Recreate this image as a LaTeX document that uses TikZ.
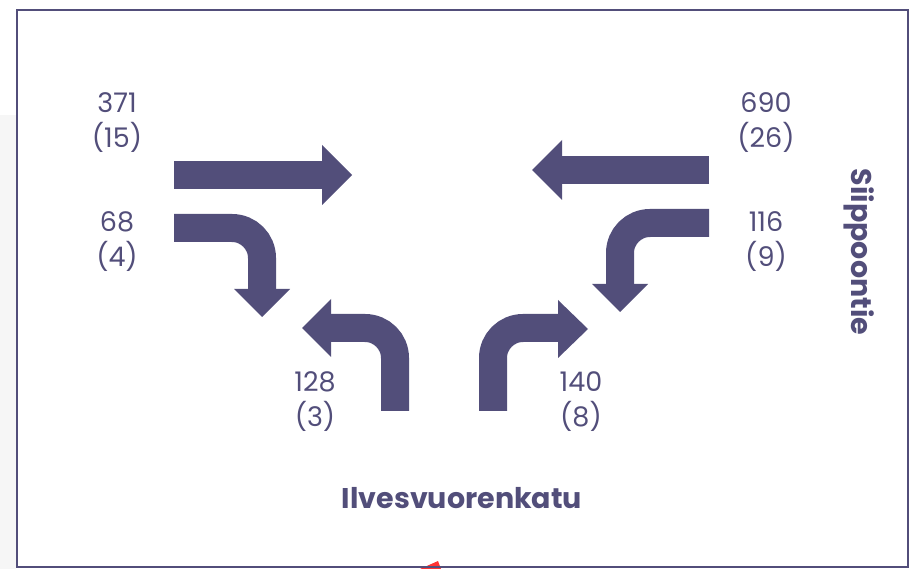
\documentclass[tikz,border=0pt]{standalone}
\usepackage{fontspec}
\setmainfont{Poppins}
\usetikzlibrary{positioning}
\definecolor{flow}{RGB}{82,78,122}
\tikzset{lane/.style = {draw = flow, line width = 28, rounded corners = 30}}
\tikzset{head/.style = {fill = flow}}
\tikzset{count/.style = {text = flow, align = center, font = \fontsize{27}{35}\selectfont}}
\tikzset{street/.style = {text = flow, font = \bfseries\fontsize{28.5}{32}\selectfont}}

\begin{document}
\begin{tikzpicture}[x = 1pt, y = -1pt]
      \useasboundingbox (0, 0) rectangle (922, 569);
      \fill [gray!7] (0, 115) rectangle (16, 569);
      \fill [red!80] (420, 569) -- (438, 561) -- (441, 569) -- cycle;
      \draw [flow, line width = 2] (17, 10) rectangle (908, 567);

      % through traffic
      \draw [lane] (174, 175) -- (323, 175);
      \fill [head] (322, 145) -- (352, 175) -- (322, 205) -- cycle;
      \draw [lane] (709, 170) -- (561, 170);
      \fill [head] (562, 140) -- (532, 170) -- (562, 200) -- cycle;

      % turns towards and from the side street
      \draw [lane] (174, 228) -- (262, 228) -- (262, 290);
      \fill [head] (234, 289) -- (290, 289) -- (262, 317) -- cycle;
      \draw [lane] (709, 223) -- (620, 223) -- (620, 285);
      \fill [head] (592, 284) -- (648, 284) -- (620, 312) -- cycle;
      \draw [lane] (395, 411) -- (395, 328) -- (330, 328);
      \fill [head] (331, 299) -- (331, 357) -- (302, 328) -- cycle;
      \draw [lane] (493, 411) -- (493, 328) -- (559, 328);
      \fill [head] (558, 300) -- (558, 358) -- (588, 329) -- cycle;

      \node [count] (w thru) at (117, 123) {371\\(15)};
      \node [count] (w right) at (117, 242) {68\\(4)};
      \node [count] (e thru) at (766, 123) {690\\(26)};
      \node [count] (e left) at (766, 242) {116\\(9)};
      \node [count] (s left) at (315, 402) {128\\(3)};
      \node [count] (s right) at (581, 402) {140\\(8)};

      \node [street] (south) at (462, 498) {Ilvesvuorenkatu};
      \node [street, rotate = -90] (east) at (859, 252) {Siippoontie};
    \end{tikzpicture}
\end{document}
